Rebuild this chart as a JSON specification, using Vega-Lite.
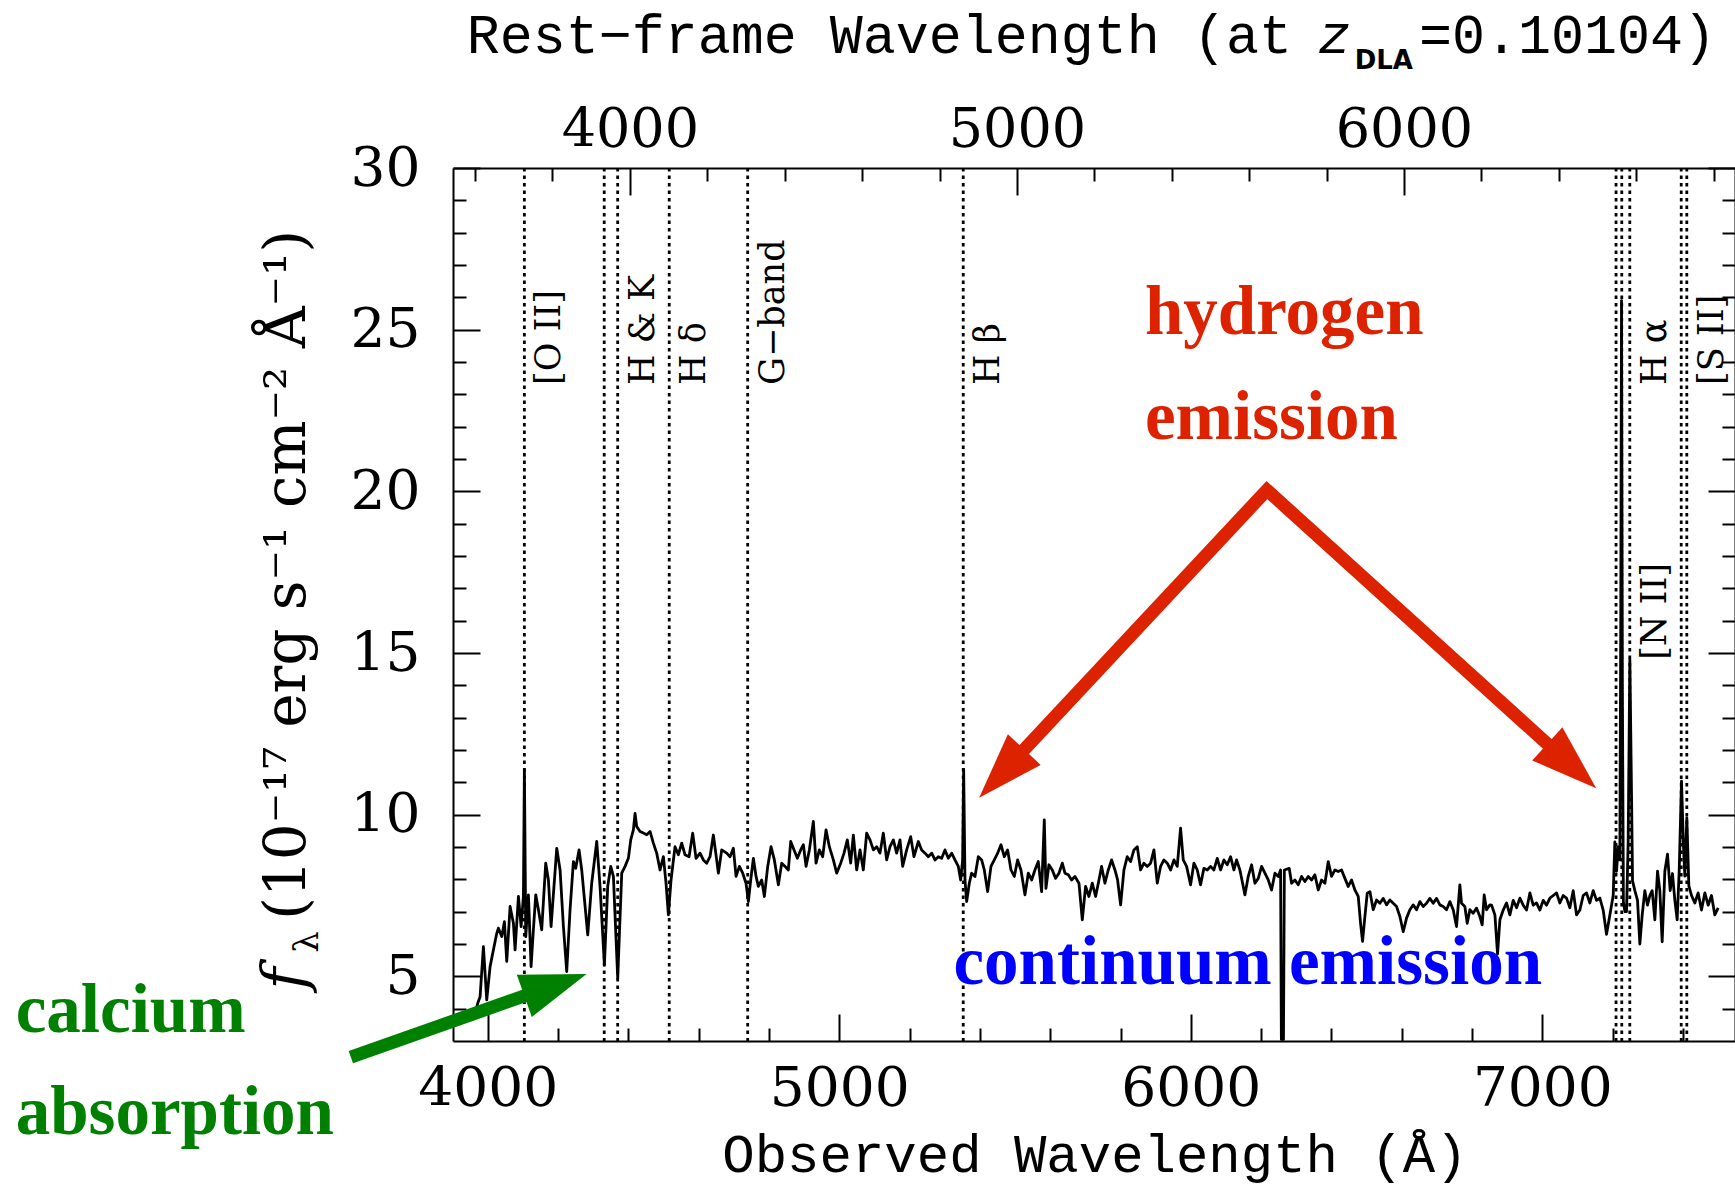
{
  "$schema": "https://vega.github.io/schema/vega-lite/v6.json",
  "width": 1282,
  "height": 873,
  "autosize": {"type": "none"},
  "padding": {"left": 453, "top": 168, "right": 0, "bottom": 147},
  "background": "white",
  "config": {
    "view": {"stroke": null},
    "font": "DejaVu Serif",
    "axis": {
      "domainColor": "black", "domainWidth": 2, "tickColor": "black", "tickWidth": 2,
      "labelColor": "black", "grid": false, "labelFont": "DejaVu Serif", "labelFontSize": 54,
      "labelOverlap": false, "labelFlush": false, "tickCap": "butt", "title": null
    }
  },
  "datasets": {
    "spectrum": [
      {"w":3965.0,"f":3.90},{"w":3971.4,"f":4.17},{"w":3978.1,"f":4.37},{"w":3987.5,"f":5.92},{"w":3997.0,"f":4.27},
      {"w":4006.5,"f":5.30},{"w":4016.0,"f":5.82},{"w":4025.5,"f":6.33},{"w":4030.2,"f":6.49},{"w":4039.7,"f":6.23},
      {"w":4047.3,"f":6.69},{"w":4053.9,"f":5.46},{"w":4063.4,"f":7.16},{"w":4072.9,"f":6.64},{"w":4077.6,"f":5.82},
      {"w":4087.1,"f":7.47},{"w":4094.7,"f":6.54},{"w":4101.3,"f":7.47},{"w":4104.1,"f":11.40},{"w":4108.0,"f":6.23},
      {"w":4115.5,"f":7.52},{"w":4123.1,"f":5.30},{"w":4129.7,"f":6.44},{"w":4136.4,"f":7.52},{"w":4144.0,"f":7.06},
      {"w":4153.4,"f":6.44},{"w":4164.8,"f":8.50},{"w":4172.4,"f":7.98},{"w":4180.0,"f":6.54},{"w":4196.1,"f":8.96},
      {"w":4205.6,"f":8.29},{"w":4215.1,"f":6.54},{"w":4224.5,"f":5.15},{"w":4234.0,"f":7.06},{"w":4243.5,"f":8.55},
      {"w":4250.1,"f":8.34},{"w":4259.6,"f":8.91},{"w":4267.2,"f":8.29},{"w":4284.3,"f":6.28},{"w":4295.6,"f":7.88},
      {"w":4309.9,"f":9.17},{"w":4319.3,"f":7.78},{"w":4331.7,"f":5.35},{"w":4341.1,"f":7.78},{"w":4349.7,"f":8.40},
      {"w":4357.3,"f":8.09},{"w":4369.6,"f":4.94},{"w":4381.0,"f":8.19},{"w":4390.4,"f":8.40},{"w":4399.9,"f":8.65},
      {"w":4406.6,"f":9.22},{"w":4414.1,"f":9.53},{"w":4418.9,"f":10.04},{"w":4423.6,"f":9.63},{"w":4433.1,"f":9.48},
      {"w":4442.6,"f":9.43},{"w":4452.1,"f":9.38},{"w":4461.5,"f":9.48},{"w":4471.0,"f":9.12},{"w":4480.5,"f":8.81},
      {"w":4490.0,"f":8.29},{"w":4499.5,"f":8.70},{"w":4507.0,"f":7.88},{"w":4513.7,"f":6.90},{"w":4521.3,"f":7.98},
      {"w":4532.6,"f":9.01},{"w":4542.1,"f":8.76},{"w":4551.6,"f":9.12},{"w":4561.1,"f":8.76},{"w":4572.5,"f":8.70},
      {"w":4582.9,"f":9.43},{"w":4592.4,"f":8.65},{"w":4603.7,"f":8.81},{"w":4613.2,"f":8.60},{"w":4622.7,"f":8.50},
      {"w":4632.2,"f":8.70},{"w":4641.7,"f":9.37},{"w":4651.1,"f":8.60},{"w":4655.9,"f":8.19},{"w":4665.4,"f":8.91},
      {"w":4679.6,"f":8.81},{"w":4689.1,"f":8.70},{"w":4698.6,"f":8.96},{"w":4706.2,"f":8.09},{"w":4715.7,"f":8.40},
      {"w":4725.2,"f":8.19},{"w":4734.6,"f":7.88},{"w":4741.3,"f":7.31},{"w":4747.9,"f":7.98},{"w":4755.5,"f":8.65},
      {"w":4763.1,"f":8.09},{"w":4769.7,"f":7.78},{"w":4779.2,"f":7.98},{"w":4786.8,"f":7.47},{"w":4796.3,"f":8.40},
      {"w":4805.7,"f":9.01},{"w":4815.2,"f":8.60},{"w":4826.6,"f":7.83},{"w":4836.1,"f":8.50},{"w":4845.6,"f":8.40},
      {"w":4855.0,"f":8.29},{"w":4861.7,"f":9.17},{"w":4871.2,"f":8.91},{"w":4880.6,"f":8.65},{"w":4890.1,"f":8.91},
      {"w":4897.7,"f":9.07},{"w":4905.3,"f":8.40},{"w":4914.8,"f":8.91},{"w":4926.1,"f":9.79},{"w":4933.7,"f":8.50},
      {"w":4943.2,"f":8.91},{"w":4952.7,"f":8.70},{"w":4962.2,"f":9.53},{"w":4971.6,"f":9.01},{"w":4983.0,"f":8.60},
      {"w":4992.5,"f":8.19},{"w":5003.9,"f":8.50},{"w":5013.4,"f":8.81},{"w":5022.8,"f":9.22},{"w":5032.3,"f":8.50},
      {"w":5039.9,"f":9.37},{"w":5049.4,"f":8.29},{"w":5058.9,"f":8.91},{"w":5068.3,"f":8.29},{"w":5077.8,"f":9.43},
      {"w":5087.3,"f":9.22},{"w":5096.8,"f":8.91},{"w":5106.3,"f":9.01},{"w":5115.7,"f":8.81},{"w":5125.2,"f":9.43},
      {"w":5134.7,"f":8.60},{"w":5144.2,"f":9.01},{"w":5153.7,"f":9.22},{"w":5163.1,"f":8.81},{"w":5172.6,"f":9.22},
      {"w":5180.2,"f":8.40},{"w":5191.6,"f":8.91},{"w":5203.0,"f":9.32},{"w":5212.4,"f":8.70},{"w":5224.8,"f":9.17},
      {"w":5234.2,"f":8.91},{"w":5243.7,"f":8.81},{"w":5253.2,"f":8.70},{"w":5262.7,"f":8.81},{"w":5272.2,"f":8.60},
      {"w":5281.6,"f":8.70},{"w":5291.1,"f":8.65},{"w":5300.6,"f":8.91},{"w":5310.1,"f":8.65},{"w":5319.6,"f":8.81},
      {"w":5329.0,"f":8.60},{"w":5338.5,"f":8.40},{"w":5345.2,"f":7.98},{"w":5350.8,"f":8.60},{"w":5353.7,"f":11.40},
      {"w":5357.5,"f":7.98},{"w":5362.2,"f":7.31},{"w":5369.8,"f":7.88},{"w":5376.4,"f":8.19},{"w":5385.9,"f":8.09},
      {"w":5395.4,"f":8.70},{"w":5404.9,"f":8.60},{"w":5412.4,"f":8.29},{"w":5421.9,"f":7.62},{"w":5431.4,"f":8.40},
      {"w":5440.9,"f":8.60},{"w":5450.4,"f":8.81},{"w":5459.8,"f":9.07},{"w":5469.3,"f":8.70},{"w":5478.8,"f":8.91},
      {"w":5488.3,"f":8.29},{"w":5497.8,"f":8.09},{"w":5507.2,"f":8.60},{"w":5516.7,"f":8.29},{"w":5528.1,"f":7.52},
      {"w":5537.6,"f":8.19},{"w":5547.1,"f":7.98},{"w":5556.5,"f":8.29},{"w":5566.0,"f":8.55},{"w":5575.5,"f":7.62},
      {"w":5583.1,"f":9.84},{"w":5587.8,"f":7.72},{"w":5596.3,"f":8.45},{"w":5605.8,"f":8.29},{"w":5615.3,"f":8.03},
      {"w":5624.8,"f":8.19},{"w":5634.3,"f":8.50},{"w":5641.9,"f":8.19},{"w":5651.3,"f":8.14},{"w":5660.8,"f":7.98},
      {"w":5670.3,"f":8.09},{"w":5681.7,"f":7.88},{"w":5691.2,"f":6.75},{"w":5700.6,"f":7.78},{"w":5710.1,"f":7.47},
      {"w":5719.6,"f":7.88},{"w":5729.1,"f":7.47},{"w":5738.6,"f":7.98},{"w":5746.1,"f":8.40},{"w":5755.6,"f":7.88},
      {"w":5765.1,"f":8.29},{"w":5774.6,"f":8.60},{"w":5784.1,"f":8.29},{"w":5791.6,"f":7.98},{"w":5800.2,"f":7.21},
      {"w":5809.7,"f":8.29},{"w":5819.1,"f":8.70},{"w":5828.6,"f":8.55},{"w":5838.1,"f":8.91},{"w":5847.6,"f":9.01},
      {"w":5857.1,"f":8.29},{"w":5866.5,"f":8.50},{"w":5876.0,"f":8.40},{"w":5885.5,"f":8.50},{"w":5895.0,"f":8.91},
      {"w":5904.5,"f":7.88},{"w":5913.9,"f":8.40},{"w":5923.4,"f":8.60},{"w":5932.9,"f":8.50},{"w":5942.4,"f":8.29},
      {"w":5951.9,"f":8.60},{"w":5961.3,"f":8.40},{"w":5970.8,"f":9.58},{"w":5978.4,"f":8.60},{"w":5987.9,"f":8.40},
      {"w":5999.3,"f":7.83},{"w":6008.7,"f":8.50},{"w":6018.2,"f":8.29},{"w":6027.7,"f":7.83},{"w":6037.2,"f":8.34},
      {"w":6046.7,"f":8.29},{"w":6056.1,"f":8.40},{"w":6065.6,"f":8.29},{"w":6075.1,"f":8.65},{"w":6084.6,"f":8.29},
      {"w":6094.1,"f":8.60},{"w":6103.5,"f":8.45},{"w":6113.0,"f":8.70},{"w":6122.5,"f":8.29},{"w":6130.1,"f":8.60},
      {"w":6139.6,"f":8.29},{"w":6147.2,"f":7.88},{"w":6153.9,"f":7.52},{"w":6163.3,"f":8.09},{"w":6172.8,"f":8.45},
      {"w":6182.3,"f":7.88},{"w":6191.8,"f":8.03},{"w":6201.3,"f":8.40},{"w":6210.7,"f":8.19},{"w":6220.2,"f":7.98},
      {"w":6229.7,"f":7.67},{"w":6239.2,"f":8.19},{"w":6248.7,"f":8.09},{"w":6255.3,"f":8.29},{"w":6257.5,"f":3.05},
      {"w":6263.5,"f":3.05},{"w":6266.0,"f":8.29},{"w":6279.9,"f":8.34},{"w":6286.6,"f":7.88},{"w":6296.1,"f":7.98},
      {"w":6305.5,"f":7.83},{"w":6315.0,"f":8.09},{"w":6324.5,"f":7.93},{"w":6334.0,"f":8.09},{"w":6343.5,"f":7.98},
      {"w":6352.9,"f":8.14},{"w":6362.4,"f":7.67},{"w":6371.9,"f":7.98},{"w":6381.4,"f":7.88},{"w":6390.9,"f":8.55},
      {"w":6400.3,"f":8.09},{"w":6409.8,"f":8.29},{"w":6419.3,"f":8.24},{"w":6428.8,"f":8.29},{"w":6438.3,"f":8.03},
      {"w":6447.7,"f":7.78},{"w":6457.2,"f":7.98},{"w":6466.7,"f":7.67},{"w":6476.2,"f":7.47},{"w":6482.8,"f":6.64},
      {"w":6488.5,"f":6.08},{"w":6495.1,"f":6.85},{"w":6501.8,"f":7.57},{"w":6509.4,"f":7.62},{"w":6518.8,"f":7.06},
      {"w":6528.3,"f":7.36},{"w":6537.8,"f":7.26},{"w":6547.3,"f":7.41},{"w":6556.8,"f":7.21},{"w":6566.2,"f":7.36},
      {"w":6575.7,"f":7.26},{"w":6585.2,"f":7.16},{"w":6594.7,"f":6.85},{"w":6604.2,"f":6.38},{"w":6613.6,"f":6.80},
      {"w":6623.1,"f":7.06},{"w":6632.6,"f":7.21},{"w":6642.1,"f":7.06},{"w":6651.6,"f":7.31},{"w":6661.0,"f":7.16},
      {"w":6670.5,"f":7.26},{"w":6680.0,"f":7.41},{"w":6689.5,"f":7.26},{"w":6699.0,"f":7.41},{"w":6708.4,"f":7.21},
      {"w":6717.9,"f":7.16},{"w":6727.4,"f":7.06},{"w":6736.9,"f":7.31},{"w":6746.4,"f":7.06},{"w":6755.8,"f":6.54},
      {"w":6765.3,"f":7.83},{"w":6770.1,"f":7.26},{"w":6779.5,"f":7.16},{"w":6786.2,"f":6.64},{"w":6793.8,"f":7.06},
      {"w":6803.2,"f":6.95},{"w":6812.7,"f":7.11},{"w":6822.2,"f":6.85},{"w":6828.8,"f":6.59},{"w":6834.5,"f":7.52},
      {"w":6841.2,"f":7.06},{"w":6850.6,"f":7.21},{"w":6855.5,"f":7.20},{"w":6865.0,"f":6.90},{"w":6872.5,"f":5.69},
      {"w":6879.2,"f":6.75},{"w":6888.6,"f":7.05},{"w":6898.1,"f":7.27},{"w":6907.6,"f":6.90},{"w":6917.1,"f":7.35},
      {"w":6926.6,"f":7.12},{"w":6936.0,"f":7.42},{"w":6945.5,"f":7.20},{"w":6955.0,"f":7.05},{"w":6964.5,"f":7.58},
      {"w":6974.0,"f":7.20},{"w":6983.4,"f":7.27},{"w":6992.9,"f":7.05},{"w":7002.4,"f":7.35},{"w":7011.9,"f":7.20},
      {"w":7021.4,"f":7.42},{"w":7030.8,"f":7.50},{"w":7040.3,"f":7.58},{"w":7049.8,"f":7.27},{"w":7059.3,"f":7.50},
      {"w":7068.8,"f":7.42},{"w":7078.2,"f":7.12},{"w":7087.7,"f":7.65},{"w":7097.2,"f":6.90},{"w":7106.7,"f":7.05},
      {"w":7116.2,"f":7.50},{"w":7125.6,"f":7.58},{"w":7135.1,"f":7.27},{"w":7144.6,"f":7.65},{"w":7154.1,"f":7.35},
      {"w":7163.6,"f":7.42},{"w":7173.0,"f":7.05},{"w":7182.5,"f":6.30},{"w":7192.0,"f":6.90},{"w":7201.5,"f":7.50},
      {"w":7206.2,"f":9.16},{"w":7211.0,"f":8.25},{"w":7215.7,"f":9.00},{"w":7220.4,"f":8.60},{"w":7223.0,"f":16.0},
      {"w":7225.2,"f":25.9},{"w":7227.6,"f":14.0},{"w":7230.5,"f":7.30},{"w":7235.0,"f":7.00},{"w":7239.4,"f":7.00},
      {"w":7244.1,"f":9.16},{"w":7248.9,"f":14.8},{"w":7253.6,"f":10.66},{"w":7256.5,"f":7.95},{"w":7263.1,"f":7.65},
      {"w":7270.7,"f":7.35},{"w":7277.3,"f":6.00},{"w":7284.0,"f":6.90},{"w":7291.5,"f":7.65},{"w":7299.1,"f":7.20},
      {"w":7305.8,"f":7.50},{"w":7312.4,"f":7.65},{"w":7320.0,"f":6.75},{"w":7327.6,"f":8.25},{"w":7334.2,"f":7.65},
      {"w":7340.8,"f":6.07},{"w":7348.4,"f":8.25},{"w":7356.0,"f":8.78},{"w":7363.6,"f":7.65},{"w":7370.2,"f":8.18},
      {"w":7376.9,"f":7.35},{"w":7383.5,"f":6.75},{"w":7389.2,"f":8.25},{"w":7395.8,"f":11.04},{"w":7401.5,"f":9.00},
      {"w":7405.3,"f":8.10},{"w":7411.0,"f":9.90},{"w":7416.7,"f":7.80},{"w":7424.3,"f":7.50},{"w":7433.7,"f":7.27},
      {"w":7443.2,"f":7.58},{"w":7452.7,"f":7.05},{"w":7462.2,"f":7.58},{"w":7471.7,"f":7.20},{"w":7481.1,"f":7.50},
      {"w":7490.6,"f":6.90},{"w":7500.1,"f":7.12}
    ],
    "lines": [
      {"name": "[O II]", "rest": 3727.4}, {"name": "Ca K", "rest": 3933.7}, {"name": "Ca H", "rest": 3968.5},
      {"name": "H delta", "rest": 4101.7}, {"name": "G-band", "rest": 4304.4}, {"name": "H beta", "rest": 4861.3},
      {"name": "[N II] 6548", "rest": 6548.0}, {"name": "H alpha", "rest": 6562.8}, {"name": "[N II] 6584", "rest": 6583.5},
      {"name": "[S II] 6716", "rest": 6716.4}, {"name": "[S II] 6731", "rest": 6730.8}
    ],
    "labels": [
      {"label": "[O II]", "rest": 3727.4}, {"label": "H & K", "rest": 3968.5}, {"label": "H δ", "rest": 4101.7},
      {"label": "G−band", "rest": 4304.4}, {"label": "H β", "rest": 4861.3}, {"label": "H α", "rest": 6583.5},
      {"label": "[S II]", "rest": 6730.8}, {"label": "[N II]", "rest": 6583.5}
    ],
    "arrows": [
      {"feature": "hydrogen", "part": "head-left", "w": 5436.3, "f": 10.97},
      {"feature": "hydrogen", "part": "apex", "w": 6216.4, "f": 20.04},
      {"feature": "hydrogen", "part": "head-right", "w": 7111.4, "f": 11.23},
      {"feature": "calcium", "part": "tail", "w": 3610.4, "f": 2.50},
      {"feature": "calcium", "part": "head", "w": 4227.8, "f": 4.87}
    ],
    "notes": [
      {"text": "hydrogen", "feature": "hydrogen", "w": 5869.4, "f": 24.87},
      {"text": "emission", "feature": "hydrogen", "w": 5869.4, "f": 21.62},
      {"text": "continuum emission", "feature": "continuum", "w": 5324.8, "f": 4.753},
      {"text": "calcium", "feature": "calcium", "w": 2657.0, "f": 3.284},
      {"text": "absorption", "feature": "calcium", "w": 2657.0, "f": 0.13}
    ]
  },
  "layer": [
    {
      "encoding": {
        "x": {"field": "rest", "type": "quantitative",
          "scale": {"domain": [3543.02, 6855.34], "nice": false, "zero": false},
          "axis": {"orient": "top", "values": [3600,3800,4000,4200,4400,4600,4800,5000,5200,5400,5600,5800,6000,6200,6400,6600,6800],
            "labelExpr": "datum.value % 1000 === 0 ? format(datum.value, 'd') : ''",
            "tickSize": {"condition": {"test": "datum.value % 1000 === 0", "value": -27}, "value": -13},
            "labelPadding": 49, "labelBaseline": "alphabetic", "labelFontSize": 54, "title": null}}
      },
      "layer": [
        {"data": {"name": "lines"}, "mark": {"type": "rule", "color": "black", "strokeWidth": 2.8, "strokeDash": [3.5, 4]}, "encoding": {}},
        {"data": {"name": "labels"}, "transform": [{"filter": "datum.label !== '[N II]'"}],
          "mark": {"type": "text", "angle": 270, "align": "left", "baseline": "top", "dy": 8, "font": "DejaVu Serif", "fontSize": 35, "color": "black"},
          "encoding": {"text": {"field": "label"},
            "y": {"datum": 23.29, "type": "quantitative", "scale": {"domain": [3, 30], "nice": false, "zero": false},
              "axis": {"orient": "right", "values": [4,5,6,7,8,9,10,11,12,13,14,15,16,17,18,19,20,21,22,23,24,25,26,27,28,29,30],
                "labels": false, "tickSize": {"condition": {"test": "datum.value % 5 === 0", "value": -27}, "value": -13}, "title": null}}}},
        {"data": {"name": "labels"}, "transform": [{"filter": "datum.label === '[N II]'"}],
          "mark": {"type": "text", "angle": 270, "align": "left", "baseline": "top", "dy": 8, "font": "DejaVu Serif", "fontSize": 35, "color": "black"},
          "encoding": {"text": {"field": "label"},
            "y": {"datum": 14.79, "type": "quantitative", "scale": {"domain": [3, 30], "nice": false, "zero": false},
              "axis": {"orient": "right", "values": [4,5,6,7,8,9,10,11,12,13,14,15,16,17,18,19,20,21,22,23,24,25,26,27,28,29,30],
                "labels": false, "tickSize": {"condition": {"test": "datum.value % 5 === 0", "value": -27}, "value": -13}, "title": null}}}}
      ]
    },
    {
      "encoding": {
        "x": {"field": "w", "type": "quantitative",
          "scale": {"domain": [3901, 7548], "nice": false, "zero": false},
          "axis": {"orient": "bottom", "values": [4000,4200,4400,4600,4800,5000,5200,5400,5600,5800,6000,6200,6400,6600,6800,7000,7200,7400],
            "labelExpr": "datum.value % 1000 === 0 ? format(datum.value, 'd') : ''",
            "tickSize": {"condition": {"test": "datum.value % 1000 === 0", "value": -27}, "value": -13},
            "labelPadding": 48, "labelFontSize": 55, "title": null}},
        "y": {"field": "f", "type": "quantitative",
          "scale": {"domain": [3, 30], "nice": false, "zero": false},
          "axis": {"orient": "left", "values": [4,5,6,7,8,9,10,11,12,13,14,15,16,17,18,19,20,21,22,23,24,25,26,27,28,29,30],
            "labelExpr": "datum.value % 5 === 0 ? format(datum.value, 'd') : ''",
            "tickSize": {"condition": {"test": "datum.value % 5 === 0", "value": -27}, "value": -13},
            "labelPadding": 60, "labelFontSize": 55, "title": null}}
      },
      "layer": [
        {"data": {"name": "spectrum"}, "mark": {"type": "line", "color": "black", "strokeWidth": 2.8, "strokeJoin": "round"}},
        {"data": {"name": "arrows"},
          "mark": {"type": "line", "strokeWidth": 13, "strokeJoin": "miter", "strokeCap": "butt"},
          "encoding": {"color": {"field": "feature", "type": "nominal", "scale": {"domain": ["hydrogen", "continuum", "calcium"], "range": ["#dd2200", "#0000ff", "#008000"]}, "legend": null}}},
        {"data": {"name": "arrows"}, "transform": [{"filter": "datum.part === 'head-left'"}],
          "mark": {"type": "point", "shape": "M0,-0.6L0.68,1.4L-0.68,1.4Z", "size": 4356, "angle": 223.1, "filled": true, "opacity": 1, "strokeWidth": 0},
          "encoding": {"color": {"field": "feature", "type": "nominal", "scale": {"domain": ["hydrogen", "continuum", "calcium"], "range": ["#dd2200", "#0000ff", "#008000"]}, "legend": null}}},
        {"data": {"name": "arrows"}, "transform": [{"filter": "datum.part === 'head-right'"}],
          "mark": {"type": "point", "shape": "M0,-0.6L0.68,1.4L-0.68,1.4Z", "size": 4356, "angle": 132.2, "filled": true, "opacity": 1, "strokeWidth": 0},
          "encoding": {"color": {"field": "feature", "type": "nominal", "scale": {"domain": ["hydrogen", "continuum", "calcium"], "range": ["#dd2200", "#0000ff", "#008000"]}, "legend": null}}},
        {"data": {"name": "arrows"}, "transform": [{"filter": "datum.part === 'head'"}],
          "mark": {"type": "point", "shape": "M0,-0.6L0.68,1.4L-0.68,1.4Z", "size": 4356, "angle": 70.5, "filled": true, "opacity": 1, "strokeWidth": 0},
          "encoding": {"color": {"field": "feature", "type": "nominal", "scale": {"domain": ["hydrogen", "continuum", "calcium"], "range": ["#dd2200", "#0000ff", "#008000"]}, "legend": null}}},
        {"data": {"name": "notes"},
          "mark": {"type": "text", "font": "Liberation Serif", "fontWeight": "bold", "fontSize": 69, "align": "left", "baseline": "alphabetic"},
          "encoding": {"text": {"field": "text"}, "color": {"field": "feature", "type": "nominal", "scale": {"domain": ["hydrogen", "continuum", "calcium"], "range": ["#dd2200", "#0000ff", "#008000"]}, "legend": null}}}
      ]
    },
    {
      "layer": [
        {"data": {"values": [{}]},
          "mark": {"type": "text", "font": "Liberation Mono", "fontSize": 55, "align": "right", "baseline": "alphabetic", "color": "black"},
          "encoding": {"x": {"datum": 6287.5, "type": "quantitative", "scale": {"domain": [3901, 7548], "nice": false, "zero": false}, "axis": null},
            "y": {"datum": 33.556, "type": "quantitative", "scale": {"domain": [3, 30], "nice": false, "zero": false}, "axis": null},
            "text": {"value": "Rest−frame Wavelength (at"}}},
        {"data": {"values": [{}]},
          "mark": {"type": "text", "font": "Liberation Mono", "fontStyle": "italic", "fontSize": 55, "align": "left", "baseline": "alphabetic", "color": "black"},
          "encoding": {"x": {"datum": 6362.0, "type": "quantitative", "scale": {"domain": [3901, 7548], "nice": false, "zero": false}, "axis": null},
            "y": {"datum": 33.556, "type": "quantitative", "scale": {"domain": [3, 30], "nice": false, "zero": false}, "axis": null},
            "text": {"value": "z"}}},
        {"data": {"values": [{}]},
          "mark": {"type": "text", "font": "DejaVu Sans", "fontWeight": "bold", "fontSize": 26, "align": "left", "baseline": "alphabetic", "color": "black"},
          "encoding": {"x": {"datum": 6466.0, "type": "quantitative", "scale": {"domain": [3901, 7548], "nice": false, "zero": false}, "axis": null},
            "y": {"datum": 33.07, "type": "quantitative", "scale": {"domain": [3, 30], "nice": false, "zero": false}, "axis": null},
            "text": {"value": "DLA"}}},
        {"data": {"values": [{}]},
          "mark": {"type": "text", "font": "Liberation Mono", "fontSize": 55, "align": "left", "baseline": "alphabetic", "color": "black"},
          "encoding": {"x": {"datum": 6648.7, "type": "quantitative", "scale": {"domain": [3901, 7548], "nice": false, "zero": false}, "axis": null},
            "y": {"datum": 33.556, "type": "quantitative", "scale": {"domain": [3, 30], "nice": false, "zero": false}, "axis": null},
            "text": {"value": "=0.10104)"}}},
        {"data": {"values": [{}]},
          "mark": {"type": "text", "font": "Liberation Mono", "fontSize": 54, "align": "center", "baseline": "alphabetic", "color": "black"},
          "encoding": {"x": {"datum": 5727.2, "type": "quantitative", "scale": {"domain": [3901, 7548], "nice": false, "zero": false}, "axis": null},
            "y": {"datum": -1.045, "type": "quantitative", "scale": {"domain": [3, 30], "nice": false, "zero": false}, "axis": null},
            "text": {"value": "Observed Wavelength (Å)"}}},
        {"data": {"values": [{}]},
          "mark": {"type": "text", "font": "DejaVu Serif", "fontStyle": "italic", "fontSize": 60, "angle": 270, "align": "left", "baseline": "alphabetic", "color": "black"},
          "encoding": {"x": {"datum": 3480.4, "type": "quantitative", "scale": {"domain": [3901, 7548], "nice": false, "zero": false}, "axis": null},
            "y": {"datum": 4.583, "type": "quantitative", "scale": {"domain": [3, 30], "nice": false, "zero": false}, "axis": null},
            "text": {"value": "f"}}},
        {"data": {"values": [{}]},
          "mark": {"type": "text", "font": "DejaVu Serif", "fontSize": 34, "angle": 270, "align": "left", "baseline": "alphabetic", "color": "black"},
          "encoding": {"x": {"datum": 3517.4, "type": "quantitative", "scale": {"domain": [3901, 7548], "nice": false, "zero": false}, "axis": null},
            "y": {"datum": 5.727, "type": "quantitative", "scale": {"domain": [3, 30], "nice": false, "zero": false}, "axis": null},
            "text": {"value": "λ"}}},
        {"data": {"values": [{}]},
          "mark": {"type": "text", "font": "DejaVu Serif", "fontSize": 58, "angle": 270, "align": "left", "baseline": "alphabetic", "color": "black"},
          "encoding": {"x": {"datum": 3480.4, "type": "quantitative", "scale": {"domain": [3901, 7548], "nice": false, "zero": false}, "axis": null},
            "y": {"datum": 6.75, "type": "quantitative", "scale": {"domain": [3, 30], "nice": false, "zero": false}, "axis": null},
            "text": {"value": "(10⁻¹⁷ erg s⁻¹ cm⁻² Å⁻¹)"}}}
      ]
    }
  ],
  "resolve": {"scale": {"x": "independent", "y": "independent"}}
}
